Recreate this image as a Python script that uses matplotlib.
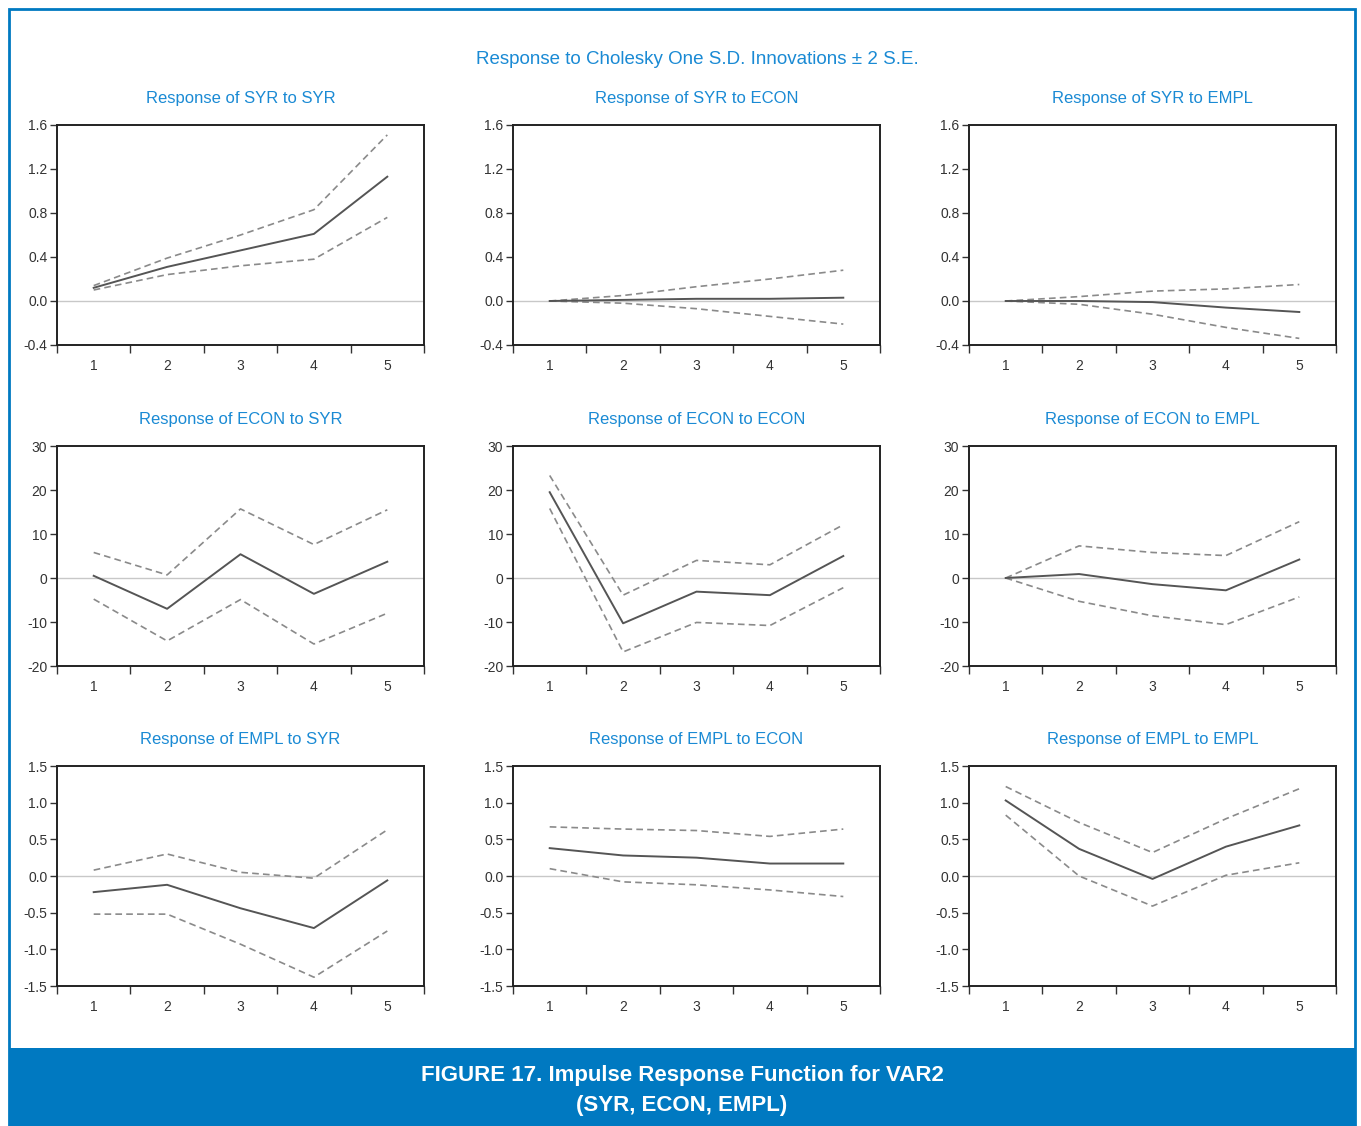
import matplotlib.pyplot as plt
from matplotlib.patches import Rectangle

plt.rcParams["font.family"] = ["Liberation Sans", "DejaVu Sans"]

W, H = 1361, 1126

periods = [1, 2, 3, 4, 5]
shocks = ["SYR", "ECON", "EMPL"]

# response of SYR
syr_syr = [0.12, 0.31, 0.46, 0.61, 1.13]
syr_syr_hi = [0.14, 0.39, 0.60, 0.83, 1.51]
syr_syr_lo = [0.10, 0.24, 0.32, 0.38, 0.76]
syr_econ = [0.0, 0.01, 0.02, 0.02, 0.03]
syr_econ_hi = [0.0, 0.05, 0.13, 0.20, 0.28]
syr_econ_lo = [0.0, -0.02, -0.07, -0.14, -0.21]
syr_empl = [0.0, 0.0, -0.01, -0.06, -0.10]
syr_empl_hi = [0.0, 0.04, 0.09, 0.11, 0.15]
syr_empl_lo = [0.0, -0.03, -0.12, -0.24, -0.34]

# response of ECON
econ_syr = [0.5, -7.0, 5.4, -3.6, 3.7]
econ_syr_hi = [5.8, 0.7, 15.7, 7.6, 15.5]
econ_syr_lo = [-4.8, -14.3, -4.9, -15.0, -8.0]
econ_econ = [19.5, -10.3, -3.1, -3.9, 5.0]
econ_econ_hi = [23.3, -3.9, 4.0, 3.0, 12.1]
econ_econ_lo = [15.8, -16.8, -10.1, -10.8, -2.2]
econ_empl = [0.0, 0.9, -1.4, -2.8, 4.2]
econ_empl_hi = [0.0, 7.3, 5.8, 5.1, 12.8]
econ_empl_lo = [0.0, -5.3, -8.6, -10.6, -4.3]

# response of EMPL
empl_syr = [-0.22, -0.12, -0.44, -0.71, -0.06]
empl_syr_hi = [0.08, 0.30, 0.05, -0.03, 0.63]
empl_syr_lo = [-0.52, -0.52, -0.93, -1.38, -0.75]
empl_econ = [0.38, 0.28, 0.25, 0.17, 0.17]
empl_econ_hi = [0.67, 0.64, 0.62, 0.54, 0.64]
empl_econ_lo = [0.10, -0.08, -0.12, -0.19, -0.28]
empl_empl = [1.03, 0.37, -0.04, 0.40, 0.69]
empl_empl_hi = [1.22, 0.73, 0.32, 0.78, 1.19]
empl_empl_lo = [0.83, 0.00, -0.41, 0.01, 0.18]

rows = [
    ("SYR", [(syr_syr, syr_syr_hi, syr_syr_lo), (syr_econ, syr_econ_hi, syr_econ_lo),
             (syr_empl, syr_empl_hi, syr_empl_lo)],
     (-0.4, 1.6), [-0.4, 0.0, 0.4, 0.8, 1.2, 1.6], ["-0.4", "0.0", "0.4", "0.8", "1.2", "1.6"]),
    ("ECON", [(econ_syr, econ_syr_hi, econ_syr_lo), (econ_econ, econ_econ_hi, econ_econ_lo),
              (econ_empl, econ_empl_hi, econ_empl_lo)],
     (-20, 30), [-20, -10, 0, 10, 20, 30], ["-20", "-10", "0", "10", "20", "30"]),
    ("EMPL", [(empl_syr, empl_syr_hi, empl_syr_lo), (empl_econ, empl_econ_hi, empl_econ_lo),
              (empl_empl, empl_empl_hi, empl_empl_lo)],
     (-1.5, 1.5), [-1.5, -1.0, -0.5, 0.0, 0.5, 1.0, 1.5],
     ["-1.5", "-1.0", "-0.5", "0.0", "0.5", "1.0", "1.5"]),
]

fig = plt.figure(figsize=(W / 100, H / 100), dpi=100)

blue = "#0079c1"
title_blue = "#1a8ad4"

# outer frame and caption band
fig.patches.append(Rectangle((9 / W, 0), 1346 / W, (H - 9) / H, transform=fig.transFigure,
                             fill=False, edgecolor=blue, linewidth=2))
fig.patches.append(Rectangle((9 / W, 0), 1346 / W, 78 / H, transform=fig.transFigure,
                             facecolor=blue, edgecolor="none"))

fig.text(697 / W, 1 - 60 / H, "Response to Cholesky One S.D. Innovations \u00b1 2 S.E.",
         ha="center", va="center", color=title_blue, fontsize=13.5)
fig.text(682 / W, 1 - 1076 / H, "FIGURE 17. Impulse Response Function for VAR2",
         ha="center", va="center", color="white", fontsize=16, fontweight="bold")
fig.text(682 / W, 1 - 1105 / H, "(SYR, ECON, EMPL)",
         ha="center", va="center", color="white", fontsize=16, fontweight="bold")

lefts = [57, 513, 969]
tops = [125, 446, 766]
aw, ah = 367, 220

for r, (resp, series, ylim, yticks, ylabels) in enumerate(rows):
    for c, (mid, hi, lo) in enumerate(series):
        ax = fig.add_axes([lefts[c] / W, 1 - (tops[r] + ah) / H, aw / W, ah / H])
        ax.axhline(0, color="#c8c8c8", linewidth=1)
        ax.plot(periods, hi, color="#8a8a8a", linestyle=(0, (4, 2.5)), linewidth=1.2)
        ax.plot(periods, lo, color="#8a8a8a", linestyle=(0, (4, 2.5)), linewidth=1.2)
        ax.plot(periods, mid, color="#555555", linewidth=1.4)
        ax.set_xlim(0.5, 5.5)
        ax.set_ylim(*ylim)
        ax.set_yticks(yticks)
        ax.set_yticklabels(ylabels)
        ax.set_xticks([0.5, 1.5, 2.5, 3.5, 4.5, 5.5])
        ax.set_xticklabels([])
        ax.set_xticks(periods, minor=True)
        ax.set_xticklabels([str(p) for p in periods], minor=True)
        ax.tick_params(axis="x", which="major", direction="out", length=6, width=1, color="#333333")
        ax.tick_params(axis="x", which="minor", length=0, pad=10, labelsize=10, labelcolor="#333333")
        ax.tick_params(axis="y", direction="out", length=5, width=1, color="#333333",
                       labelsize=10, labelcolor="#333333", pad=2)
        for s in ax.spines.values():
            s.set_linewidth(1.4)
            s.set_color("#222222")
        ax.set_title(f"Response of {resp} to {shocks[c]}", color=title_blue, fontsize=12, pad=16)

fig.savefig("out.png", dpi=100)
